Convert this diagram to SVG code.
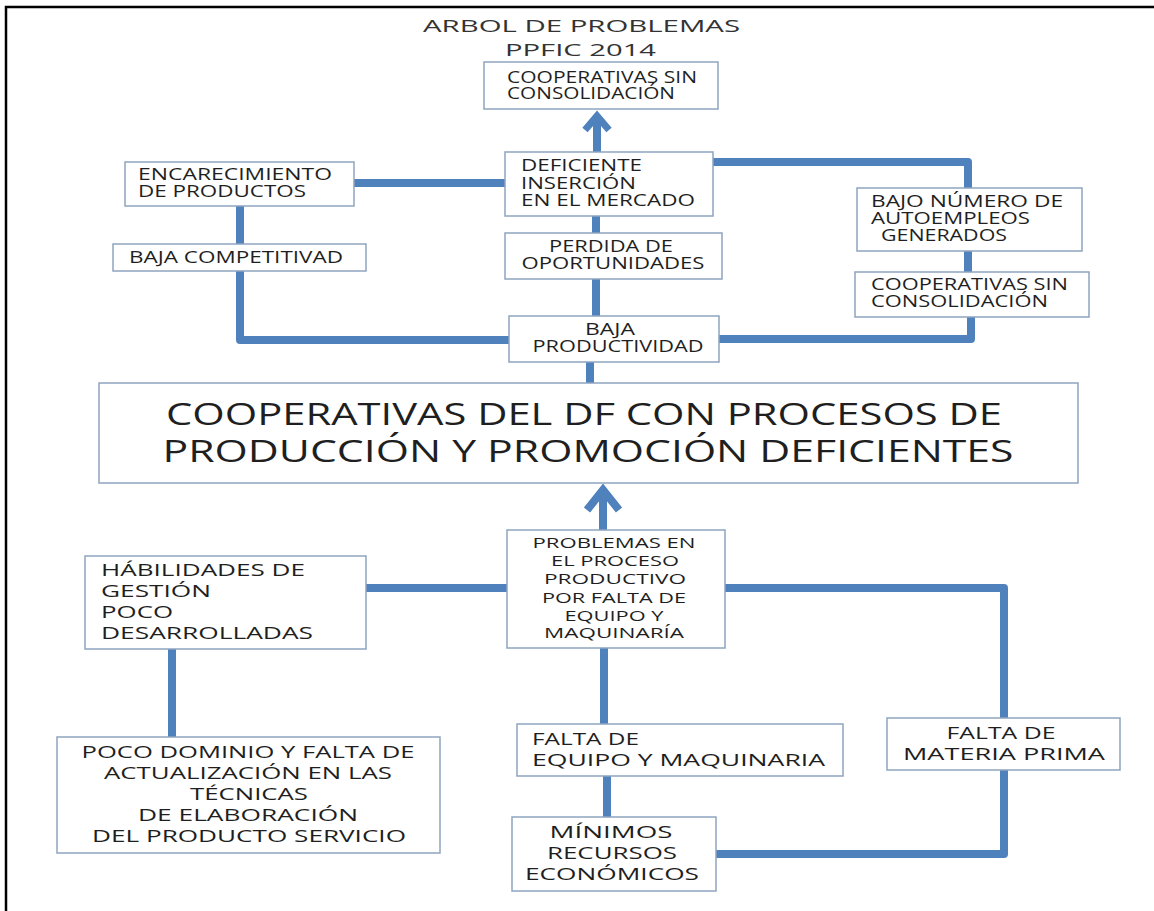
<svg xmlns="http://www.w3.org/2000/svg" width="1154" height="911" viewBox="0 0 1154 911">
<style>
.box{fill:#fff;stroke:#8EA4C0;stroke-width:1.5}
.t{font-family:"Open Sans","Liberation Sans",sans-serif;fill:#1f1f1f}
.s{font-size:15.5px}
.m{font-size:17px}
.xs{font-size:14px}
.big{font-size:31px}
.ttl{font-size:17px;fill:#333}
.c{text-anchor:middle}
.con{fill:none;stroke:#4F81BD;stroke-width:8;stroke-linejoin:round}
</style>
<defs>
<marker id="ah" markerUnits="userSpaceOnUse" viewBox="-20 -20 30 40" markerWidth="30" markerHeight="40" refX="0" refY="0" orient="auto">
<path d="M-14,-12 L0,0 L-14,12" fill="none" stroke="#4F81BD" stroke-width="7" stroke-linejoin="miter"/>
</marker>
<marker id="ah2" markerUnits="userSpaceOnUse" viewBox="-28 -24 38 48" markerWidth="38" markerHeight="48" refX="0" refY="0" orient="auto">
<path d="M-20,-16 L0,0 L-20,16" fill="none" stroke="#4F81BD" stroke-width="8" stroke-linejoin="miter"/>
</marker>
</defs>
<rect width="1154" height="911" fill="#fff"/>
<path d="M6,911 V7 H1154" fill="none" stroke="#000" stroke-width="2.5"/>
<g id="title">
<text class="t ttl" x="423" y="32" textLength="317" lengthAdjust="spacingAndGlyphs">ARBOL  DE PROBLEMAS</text>
<text class="t ttl" x="505" y="56" textLength="151" lengthAdjust="spacingAndGlyphs">PPFIC 2014</text>
</g>
<g id="connectors">
<path class="con" d="M597,152 V116" marker-end="url(#ah)"/>
<path class="con" d="M354,183 H505"/>
<path class="con" d="M713,162 H968 V188"/>
<path class="con" d="M968,251 V272"/>
<path class="con" d="M971,317 V339 H719"/>
<path class="con" d="M240,206 V244"/>
<path class="con" d="M240,271 V340 H509"/>
<path class="con" d="M596,216 V233"/>
<path class="con" d="M596,279 V316"/>
<path class="con" d="M590,362 V383"/>
<path class="con" d="M603,530 V490" marker-end="url(#ah2)"/>
<path class="con" d="M366,588 H507"/>
<path class="con" d="M172,649 V737"/>
<path class="con" d="M604,648 V724"/>
<path class="con" d="M607,776 V817"/>
<path class="con" d="M725,588 H1004 V718"/>
<path class="con" d="M1004,770 V854 H716"/>
</g>
<g id="n-top">
<rect class="box" x="484" y="62" width="234" height="47"/>
<text class="t s" x="507" y="83" textLength="190" lengthAdjust="spacingAndGlyphs">COOPERATIVAS SIN</text>
<text class="t s" x="507" y="99" textLength="168" lengthAdjust="spacingAndGlyphs">CONSOLIDACIÓN</text>
</g>
<g id="n-encarecimiento">
<rect class="box" x="125" y="162" width="229" height="44"/>
<text class="t s" x="138" y="180" textLength="194" lengthAdjust="spacingAndGlyphs">ENCARECIMIENTO</text>
<text class="t s" x="138" y="197" textLength="168" lengthAdjust="spacingAndGlyphs">DE PRODUCTOS</text>
</g>
<g id="n-deficiente">
<rect class="box" x="505" y="152" width="208" height="64"/>
<text class="t s" x="521" y="171" textLength="121" lengthAdjust="spacingAndGlyphs">DEFICIENTE</text>
<text class="t s" x="521" y="189" textLength="115" lengthAdjust="spacingAndGlyphs">INSERCIÓN</text>
<text class="t s" x="521" y="206" textLength="174" lengthAdjust="spacingAndGlyphs">EN EL MERCADO</text>
</g>
<g id="n-bajo-numero">
<rect class="box" x="857" y="188" width="225" height="63"/>
<text class="t s" x="871" y="207" textLength="192" lengthAdjust="spacingAndGlyphs">BAJO NÚMERO DE</text>
<text class="t s" x="871" y="224" textLength="159" lengthAdjust="spacingAndGlyphs">AUTOEMPLEOS</text>
<text class="t s" x="881" y="241" textLength="126" lengthAdjust="spacingAndGlyphs">GENERADOS</text>
</g>
<g id="n-baja-competitividad">
<rect class="box" x="113" y="244" width="253" height="27"/>
<text class="t s" x="129" y="263" textLength="214" lengthAdjust="spacingAndGlyphs">BAJA COMPETITIVAD</text>
</g>
<g id="n-perdida">
<rect class="box" x="505" y="233" width="217" height="46"/>
<text class="t s c" x="611" y="252" textLength="124" lengthAdjust="spacingAndGlyphs">PERDIDA DE</text>
<text class="t s c" x="613" y="269" textLength="183" lengthAdjust="spacingAndGlyphs">OPORTUNIDADES</text>
</g>
<g id="n-coop-sin-consolidacion">
<rect class="box" x="855" y="272" width="234" height="45"/>
<text class="t s" x="871" y="290" textLength="197" lengthAdjust="spacingAndGlyphs">COOPERATIVAS SIN</text>
<text class="t s" x="871" y="307" textLength="177" lengthAdjust="spacingAndGlyphs">CONSOLIDACIÓN</text>
</g>
<g id="n-baja-productividad">
<rect class="box" x="509" y="316" width="210" height="46"/>
<text class="t s c" x="610" y="335" textLength="50" lengthAdjust="spacingAndGlyphs">BAJA</text>
<text class="t s c" x="618" y="352" textLength="171" lengthAdjust="spacingAndGlyphs">PRODUCTIVIDAD</text>
</g>
<g id="n-main">
<rect class="box" x="99" y="383" width="979" height="100"/>
<text class="t big c" x="584" y="425" textLength="836" lengthAdjust="spacingAndGlyphs">COOPERATIVAS DEL DF CON PROCESOS DE</text>
<text class="t big c" x="588" y="462" textLength="851" lengthAdjust="spacingAndGlyphs">PRODUCCIÓN Y PROMOCIÓN DEFICIENTES</text>
</g>
<g id="n-problemas">
<rect class="box" x="507" y="530" width="218" height="118"/>
<text class="t xs c" x="614" y="548" textLength="163" lengthAdjust="spacingAndGlyphs">PROBLEMAS EN</text>
<text class="t xs c" x="615" y="566" textLength="128" lengthAdjust="spacingAndGlyphs">EL PROCESO</text>
<text class="t xs c" x="615" y="584" textLength="142" lengthAdjust="spacingAndGlyphs">PRODUCTIVO</text>
<text class="t xs c" x="614" y="603" textLength="144" lengthAdjust="spacingAndGlyphs">POR FALTA DE</text>
<text class="t xs c" x="614" y="621" textLength="99" lengthAdjust="spacingAndGlyphs">EQUIPO Y</text>
<text class="t xs c" x="614" y="638" textLength="140" lengthAdjust="spacingAndGlyphs">MAQUINARÍA</text>
</g>
<g id="n-habilidades">
<rect class="box" x="85" y="556" width="281" height="93"/>
<text class="t m" x="101" y="576" textLength="204" lengthAdjust="spacingAndGlyphs">HÁBILIDADES DE</text>
<text class="t m" x="101" y="597" textLength="110" lengthAdjust="spacingAndGlyphs">GESTIÓN</text>
<text class="t m" x="101" y="618" textLength="72" lengthAdjust="spacingAndGlyphs">POCO</text>
<text class="t m" x="101" y="639" textLength="212" lengthAdjust="spacingAndGlyphs">DESARROLLADAS</text>
</g>
<g id="n-poco-dominio">
<rect class="box" x="57" y="737" width="383" height="116"/>
<text class="t m c" x="248" y="758" textLength="333" lengthAdjust="spacingAndGlyphs">POCO DOMINIO Y FALTA DE</text>
<text class="t m c" x="248" y="779" textLength="288" lengthAdjust="spacingAndGlyphs">ACTUALIZACIÓN EN LAS</text>
<text class="t m c" x="249" y="800" textLength="118" lengthAdjust="spacingAndGlyphs">TÉCNICAS</text>
<text class="t m c" x="248" y="821" textLength="220" lengthAdjust="spacingAndGlyphs">DE ELABORACIÓN</text>
<text class="t m c" x="249" y="842" textLength="314" lengthAdjust="spacingAndGlyphs">DEL PRODUCTO SERVICIO</text>
</g>
<g id="n-falta-equipo">
<rect class="box" x="517" y="724" width="326" height="52"/>
<text class="t m" x="532" y="745" textLength="107" lengthAdjust="spacingAndGlyphs">FALTA DE</text>
<text class="t m" x="532" y="766" textLength="293" lengthAdjust="spacingAndGlyphs">EQUIPO Y MAQUINARIA</text>
</g>
<g id="n-falta-materia">
<rect class="box" x="887" y="718" width="233" height="52"/>
<text class="t m c" x="1001" y="739" textLength="109" lengthAdjust="spacingAndGlyphs">FALTA DE</text>
<text class="t m c" x="1004" y="760" textLength="202" lengthAdjust="spacingAndGlyphs">MATERIA PRIMA</text>
</g>
<g id="n-minimos">
<rect class="box" x="512" y="817" width="204" height="74"/>
<text class="t m c" x="611" y="838" textLength="123" lengthAdjust="spacingAndGlyphs">MÍNIMOS</text>
<text class="t m c" x="612" y="859" textLength="130" lengthAdjust="spacingAndGlyphs">RECURSOS</text>
<text class="t m c" x="612" y="880" textLength="174" lengthAdjust="spacingAndGlyphs">ECONÓMICOS</text>
</g>
</svg>
